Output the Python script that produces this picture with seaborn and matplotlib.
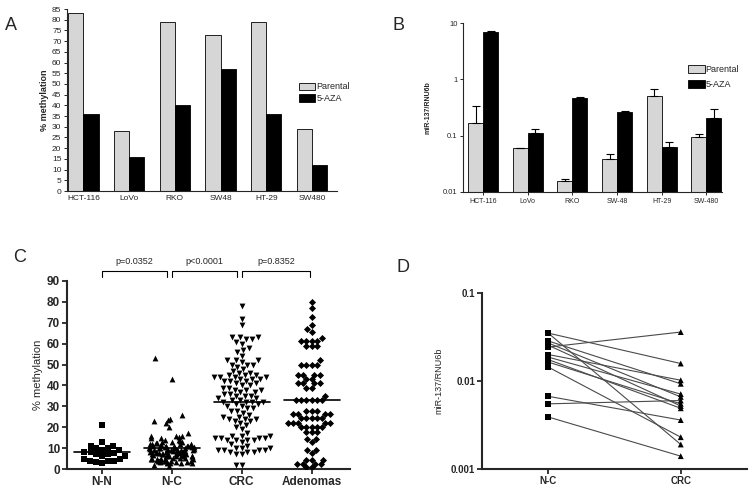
import matplotlib
matplotlib.use("Agg")
import numpy as np
import pandas as pd
import matplotlib.pyplot as plt
import seaborn as sns
from matplotlib.patches import Patch
from matplotlib.ticker import NullLocator

# ---- data ----
lines_a = ["HCT-116", "LoVo", "RKO", "SW48", "HT-29", "SW480"]
meth_parental = [83, 28, 79, 73, 79, 29]
meth_aza = [36, 16, 40, 57, 36, 12]

lines_b = ["HCT-116", "LoVo", "RKO", "SW-48", "HT-29", "SW-480"]
mir_parental = [0.17, 0.060, 0.016, 0.039, 0.50, 0.095]
mir_parental_err = [0.17, 0.001, 0.001, 0.008, 0.16, 0.010]
mir_aza = [6.8, 0.11, 0.46, 0.26, 0.064, 0.21]
mir_aza_err = [0.4, 0.02, 0.03, 0.01, 0.012, 0.09]

groups_c = ["N-N", "N-C", "CRC", "Adenomas"]
nn = [21, 13, 11, 11, 10, 10, 9, 9, 8, 8, 7.5, 7, 7, 6, 6, 5, 5, 4, 4, 4, 3.5, 3]
ncc = [53, 43, 26, 24, 23.5, 23, 22, 20, 17, 16, 16, 16, 15.5, 15, 15, 14, 14,
       13.5, 13, 13, 13, 12.5, 12.5, 12, 12, 12, 12, 11.5, 11.5, 11, 11, 11, 11,
       11, 10.5, 10.5, 10.5, 10, 10, 10, 10, 10, 10, 9.5, 9.5, 9.5, 9, 9, 9, 9,
       9, 9, 8.5, 8.5, 8.5, 8, 8, 8, 8, 8, 8, 7.5, 7.5, 7.5, 7, 7, 7, 7, 7, 7,
       6.5, 6.5, 6.5, 6, 6, 6, 6, 6, 6, 5.5, 5.5, 5.5, 5, 5, 5, 5, 5, 5, 4.5,
       4.5, 4.5, 4, 4, 4, 4, 4, 4, 4, 3.5, 3.5, 3.5, 3, 3, 3, 3, 2, 1.5]
crc = [78, 72, 69, 63, 63, 63, 62, 62, 61, 60, 58, 57, 56, 54, 52, 52, 52, 51,
       50, 50, 50, 49, 48, 47, 46, 46, 45, 45, 45, 44, 44, 44, 44, 43, 43, 43,
       42, 42, 42, 41, 41, 40, 40, 39, 39, 38, 38, 38, 37, 37, 36, 36, 35, 35,
       35, 34, 34, 33, 33, 32, 32, 32, 32, 31, 31, 30, 30, 29, 29, 28, 28, 27,
       26, 25, 25, 24, 24, 24, 23, 23, 22, 21, 20, 19, 17, 16, 16, 16, 15, 15,
       15, 15, 14, 14, 14, 14, 13, 12, 11, 10, 10, 10, 9, 9, 9, 9, 8, 8, 8, 7,
       7, 2, 2]
aden = [80, 77, 73, 69, 67, 65.5, 62.5, 61.5, 61.5, 61.5, 61.5, 59, 59, 59, 52,
        50, 50, 50, 50, 45, 45, 45, 45, 43, 43, 41, 41, 41, 41, 39, 39, 35,
        33, 33, 33, 33, 33, 33, 28, 28, 28, 26.5, 26.5, 26.5, 26.5, 24.5, 24.5,
        24.5, 24.5, 24.5, 22, 22, 22, 22, 22, 20, 20, 20, 20, 20, 17.5, 17.5,
        17.5, 14.5, 14.5, 13, 9, 9, 7.5, 4.5, 4.5, 4.5, 2.5, 2.5, 2.5, 2.5,
        0.8, 0.8]
center_lines = [8, 10, 32, 33]
pvals = ["p=0.0352", "p<0.0001", "p=0.8352"]

pair_nc = [0.035, 0.035, 0.0285, 0.027, 0.0255, 0.0243, 0.020, 0.0187, 0.0175,
           0.0164, 0.0144, 0.0067, 0.0055, 0.0039]
pair_crc = [0.0158, 0.0019, 0.0093, 0.0066, 0.0052, 0.036, 0.0102, 0.0071,
            0.0049, 0.0055, 0.0023, 0.0036, 0.006, 0.0014]

GREY = "#d6d6d6"

sns.set_style("ticks")
plt.rcParams["font.family"] = ["Liberation Sans", "DejaVu Sans"]
plt.rcParams["axes.linewidth"] = 0.8

fig = plt.figure(figsize=(7.53, 4.92), dpi=100)
W, H = 753, 492


def px_axes(left, top, right, bottom):
    return fig.add_axes([left / W, 1 - bottom / H, (right - left) / W, (bottom - top) / H])


def legend_handles():
    return [Patch(facecolor=GREY, edgecolor="black", linewidth=0.6, label="Parental"),
            Patch(facecolor="black", edgecolor="black", linewidth=0.6, label="5-AZA")]


# ---- A ----
axA = px_axes(67, 9, 337, 191)
dfA = pd.DataFrame({"line": lines_a * 2,
                    "treat": ["Parental"] * 6 + ["5-AZA"] * 6,
                    "val": meth_parental + meth_aza})
sns.barplot(data=dfA, x="line", y="val", hue="treat", palette=[GREY, "black"],
            width=0.67, edgecolor="black", linewidth=0.6, errorbar=None,
            legend=False, ax=axA)
axA.set_ylim(0, 85)
axA.set_yticks(range(0, 86, 5))
axA.set_xlim(-0.36, 5.55)
axA.set_xlabel("")
axA.set_ylabel("% methylation", fontsize=6.5, fontweight="bold", labelpad=2)
axA.tick_params(axis="both", labelsize=6, length=2.5, width=0.7, pad=1.5)
axA.tick_params(axis="x", length=0, pad=3)
sns.despine(ax=axA)
axA.legend(handles=legend_handles(), loc="center left", bbox_to_anchor=(0.86, 0.54),
           frameon=False, fontsize=6.5, handlelength=1.8, handleheight=0.9,
           handletextpad=0.1, labelspacing=0.3, borderpad=0, borderaxespad=0)

# ---- B ----
axB = px_axes(463, 23, 722, 192)
dfB = pd.DataFrame({"line": lines_b * 2,
                    "treat": ["Parental"] * 6 + ["5-AZA"] * 6,
                    "val": mir_parental + mir_aza})
sns.barplot(data=dfB, x="line", y="val", hue="treat", palette=[GREY, "black"],
            width=0.67, edgecolor="black", linewidth=0.6, errorbar=None,
            legend=False, ax=axB)
for cont, vals, errs in zip(axB.containers, [mir_parental, mir_aza],
                            [mir_parental_err, mir_aza_err]):
    xs = [b.get_x() + b.get_width() / 2 for b in cont]
    axB.errorbar(xs, vals, yerr=[np.zeros(len(vals)), errs], fmt="none",
                 ecolor="black", elinewidth=0.8, capsize=3, capthick=0.8)
axB.set_yscale("log")
axB.set_ylim(0.01, 10)
axB.set_yticks([0.01, 0.1, 1, 10])
axB.set_yticklabels(["0.01", "0.1", "1", "10"])
axB.yaxis.set_minor_locator(NullLocator())
axB.set_xlim(-0.45, 5.35)
axB.set_xlabel("")
axB.set_ylabel("miR-137/RNU6b", fontsize=5, fontweight="bold", labelpad=8)
axB.tick_params(axis="y", labelsize=5.5, length=2.5, width=0.7, pad=1.5)
axB.tick_params(axis="x", labelsize=5, length=2, width=0.7, pad=2)
sns.despine(ax=axB)
axB.legend(handles=legend_handles(), loc="center left", bbox_to_anchor=(0.87, 0.68),
           frameon=False, fontsize=6.5, handlelength=1.8, handleheight=0.9,
           handletextpad=0.1, labelspacing=0.7, borderpad=0, borderaxespad=0)

# ---- C ----
axC = px_axes(67, 281, 350, 469)
dfC = pd.DataFrame({"group": ["N-N"] * len(nn) + ["N-C"] * len(ncc)
                    + ["CRC"] * len(crc) + ["Adenomas"] * len(aden),
                    "val": nn + ncc + crc + aden})
markers = {"N-N": "s", "N-C": "^", "CRC": "v", "Adenomas": "D"}
sizes = {"N-N": 4.2, "N-C": 4.2, "CRC": 4.2, "Adenomas": 3.6}
for g in groups_c:
    sub = dfC[dfC["group"] == g]
    if g == "N-C":
        # too crowded for a clean swarm, jitter instead
        sns.stripplot(data=sub, x="group", y="val", order=groups_c, jitter=0.33,
                      marker=markers[g], size=sizes[g], color="black",
                      linewidth=0, ax=axC)
    else:
        sns.swarmplot(data=sub, x="group", y="val", order=groups_c,
                      marker=markers[g], size=sizes[g], color="black",
                      linewidth=0, ax=axC)
for i, m in enumerate(center_lines):
    axC.plot([i - 0.4, i + 0.4], [m, m], color="black", lw=1.2, zorder=5)
for i, txt in enumerate(pvals):
    x0, x1 = i, i + (0.93 if i < 2 else 0.98)
    axC.plot([x0, x0, x1, x1], [92, 95, 95, 92], color="black", lw=0.8,
             clip_on=False)
    axC.text((x0 + x1) / 2, 99.5, txt, ha="center", va="center", fontsize=6.5)
axC.set_ylim(0, 90)
axC.set_yticks(range(0, 91, 10))
axC.set_xlim(-0.5, 3.55)
axC.set_xlabel("")
axC.set_ylabel("% methylation", fontsize=8, labelpad=3)
axC.tick_params(axis="both", labelsize=8.5, length=3.5, width=1.3, pad=1.5)
for lab in axC.get_xticklabels() + axC.get_yticklabels():
    lab.set_fontweight("bold")
sns.despine(ax=axC)
for s in ["left", "bottom"]:
    axC.spines[s].set_linewidth(1.5)

# ---- D ----
axD = px_axes(482, 293, 747, 469)
dfD = pd.DataFrame({"pair": list(range(len(pair_nc))) * 2,
                    "group": ["N-C"] * len(pair_nc) + ["CRC"] * len(pair_crc),
                    "val": pair_nc + pair_crc})
dfD["pos"] = dfD["group"].map({"N-C": 0, "CRC": 1})
sns.lineplot(data=dfD, x="pos", y="val", units="pair", estimator=None,
             color="#4a4a4a", lw=0.8, ax=axD)
sns.scatterplot(data=dfD, x="pos", y="val", style="group",
                markers={"N-C": "s", "CRC": "^"}, color="black", s=18,
                linewidth=0, legend=False, ax=axD, zorder=5)
axD.set_yscale("log")
axD.set_ylim(0.001, 0.1)
axD.set_yticks([0.001, 0.01, 0.1])
axD.set_yticklabels(["0.001", "0.01", "0.1"])
axD.yaxis.set_minor_locator(NullLocator())
axD.set_xlim(-0.5, 1.5)
axD.set_xticks([0, 1])
axD.set_xticklabels(["N-C", "CRC"])
axD.set_xlabel("")
axD.set_ylabel("miR-137/RNU6b", fontsize=6.5, labelpad=5)
axD.tick_params(axis="both", labelsize=7, length=3.5, width=1.3, pad=1.5)
for lab in axD.get_xticklabels() + axD.get_yticklabels():
    lab.set_fontweight("bold")
sns.despine(ax=axD)
for s in ["left", "bottom"]:
    axD.spines[s].set_linewidth(1.5)

# ---- panel letters ----
for letter, x, y in [("A", 5, 26), ("B", 392, 26), ("C", 13, 257), ("D", 397, 268)]:
    fig.text(x / W, 1 - y / H, letter, fontsize=13, ha="left", va="center")

fig.savefig("out.png", dpi=100)
